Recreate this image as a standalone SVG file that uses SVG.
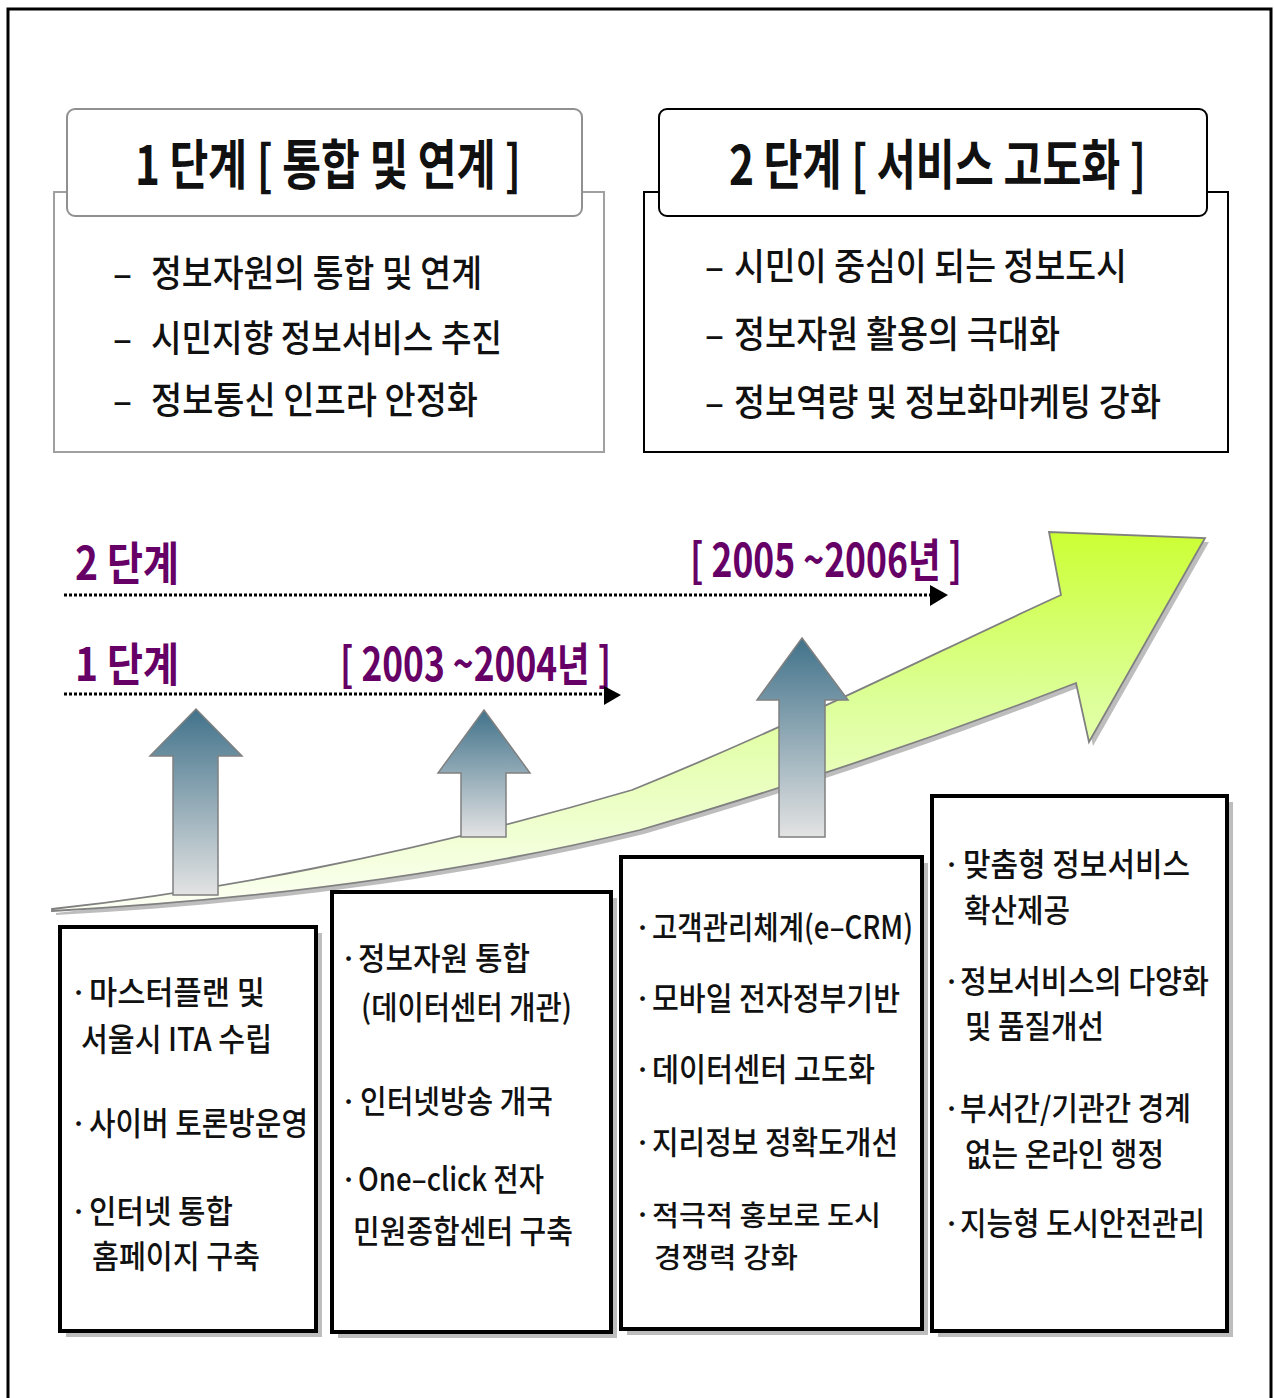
<svg xmlns="http://www.w3.org/2000/svg" width="1274" height="1398" viewBox="0 0 1274 1398">
<defs>
<style>
text { font-family: "Noto Sans CJK KR", "Noto Sans", sans-serif; fill: #111; }
.title { font-size: 54px; font-weight: bold; }
.item { font-size: 37px; font-weight: 500; }
.b { font-size: 32px; font-weight: 500; }
.bs { font-size: 28px; font-weight: 500; }
.bul { font-size: 30px; font-weight: 500; }
.tl { font-size: 46px; font-weight: bold; fill: #660066; }
.box { fill: #fff; stroke: #000; stroke-width: 4; }
.shadow { fill: #bdbdbd; }
.up { fill: url(#blueGrad); stroke: #808080; stroke-width: 1.5; }
.dots { stroke: #000; stroke-width: 3; stroke-dasharray: 3 2; fill: none; }
</style>
<linearGradient id="greenGrad" gradientUnits="userSpaceOnUse" x1="0" y1="532" x2="0" y2="905">
<stop offset="0" stop-color="#CCFF33"/>
<stop offset="0.45" stop-color="#DDFF99"/>
<stop offset="1" stop-color="#FBFFF2"/>
</linearGradient>
<linearGradient id="blueGrad" x1="0" y1="0" x2="0" y2="1">
<stop offset="0" stop-color="#41728A"/>
<stop offset="1" stop-color="#E3E3E3"/>
</linearGradient>
</defs>

<rect x="8" y="9" width="1263" height="1410" fill="#fff" stroke="#000" stroke-width="3"/>

<g id="stage1-box">
<rect x="54" y="192" width="550" height="260" fill="#fff" stroke="#a0a0a0" stroke-width="2"/>
<rect x="67" y="109" width="515" height="107" rx="8" fill="#fff" stroke="#909090" stroke-width="2"/>
<text class="title" x="135" y="185" textLength="386" lengthAdjust="spacingAndGlyphs">1 단계 [ 통합 및 연계 ]</text>
<text class="item" x="113" y="287" textLength="19" lengthAdjust="spacingAndGlyphs">–</text>
<text class="item" x="151" y="287" textLength="331" lengthAdjust="spacingAndGlyphs">정보자원의 통합 및 연계</text>
<text class="item" x="113" y="352" textLength="19" lengthAdjust="spacingAndGlyphs">–</text>
<text class="item" x="151" y="352" textLength="351" lengthAdjust="spacingAndGlyphs">시민지향 정보서비스 추진</text>
<text class="item" x="113" y="414" textLength="19" lengthAdjust="spacingAndGlyphs">–</text>
<text class="item" x="151" y="414" textLength="327" lengthAdjust="spacingAndGlyphs">정보통신 인프라 안정화</text>
</g>

<g id="stage2-box">
<rect x="644" y="192" width="584" height="260" fill="#fff" stroke="#000" stroke-width="2"/>
<rect x="659" y="109" width="548" height="107" rx="8" fill="#fff" stroke="#000" stroke-width="2"/>
<text class="title" x="729" y="185" textLength="417" lengthAdjust="spacingAndGlyphs">2 단계 [ 서비스 고도화 ]</text>
<text class="item" x="705" y="280" textLength="19" lengthAdjust="spacingAndGlyphs">–</text>
<text class="item" x="734" y="280" textLength="393" lengthAdjust="spacingAndGlyphs">시민이 중심이 되는 정보도시</text>
<text class="item" x="705" y="348" textLength="19" lengthAdjust="spacingAndGlyphs">–</text>
<text class="item" x="734" y="348" textLength="326" lengthAdjust="spacingAndGlyphs">정보자원 활용의 극대화</text>
<text class="item" x="705" y="416" textLength="19" lengthAdjust="spacingAndGlyphs">–</text>
<text class="item" x="734" y="416" textLength="427" lengthAdjust="spacingAndGlyphs">정보역량 및 정보화마케팅 강화</text>
</g>

<g id="timeline-labels">
<text class="tl" x="75" y="580" textLength="104" lengthAdjust="spacingAndGlyphs">2 단계</text>
<text class="tl" x="690" y="577" textLength="272" lengthAdjust="spacingAndGlyphs">[ 2005 ~2006년 ]</text>
<text class="tl" x="75" y="681" textLength="104" lengthAdjust="spacingAndGlyphs">1 단계</text>
<text class="tl" x="340" y="681" textLength="271" lengthAdjust="spacingAndGlyphs">[ 2003 ~2004년 ]</text>
</g>

<g id="connectors">
<line class="dots" x1="64" y1="595" x2="930" y2="595"/>
<polygon points="930,585 948,595 930,606" fill="#000"/>
<line class="dots" x1="64" y1="694" x2="604" y2="694"/>
<polygon points="604,686 621,695 604,705" fill="#000"/>
</g>

<g id="growth-arrow">
<path transform="translate(4,4)" class="shadow" d="M52,909 C200,893 400,858 632,790 C800,722 940,650 1061,595 L1049,532 L1205,538 L1089,742 L1076,683 C960,728 820,778 640,830 C450,876 250,900 52,911 Z"/>
<path fill="url(#greenGrad)" stroke="#808080" stroke-width="1.8" stroke-linejoin="miter" d="M52,909 C200,893 400,858 632,790 C800,722 940,650 1061,595 L1049,532 L1205,538 L1089,742 L1076,683 C960,728 820,778 640,830 C450,876 250,900 52,911 Z"/>
</g>

<g id="up-arrow-1">
<polygon class="up" points="196,709 242,756 218,756 218,895 173,895 173,756 150,756"/>
</g>
<g id="up-arrow-2">
<polygon class="up" points="484,710 530,773 506,773 506,837 461,837 461,773 438,773"/>
</g>
<g id="up-arrow-3">
<polygon class="up" points="802,638 848,700 825,700 825,837 779,837 779,700 757,700"/>
</g>

<g id="box-a">
<rect class="shadow" x="66" y="933" width="256" height="404"/>
<rect class="box" x="60" y="927" width="256" height="404"/>
<text class="bul" x="70" y="1004">·</text>
<text class="b" x="89" y="1004" textLength="176" lengthAdjust="spacingAndGlyphs">마스터플랜  및</text>
<text class="b" x="81" y="1051" textLength="191" lengthAdjust="spacingAndGlyphs">서울시 ITA 수립</text>
<text class="bul" x="70" y="1135">·</text>
<text class="b" x="89" y="1135" textLength="219" lengthAdjust="spacingAndGlyphs">사이버 토론방운영</text>
<text class="bul" x="70" y="1223">·</text>
<text class="b" x="89" y="1223" textLength="144" lengthAdjust="spacingAndGlyphs">인터넷 통합</text>
<text class="b" x="92" y="1268" textLength="168" lengthAdjust="spacingAndGlyphs">홈페이지 구축</text>
</g>

<g id="box-b">
<rect class="shadow" x="338" y="898" width="279" height="440"/>
<rect class="box" x="332" y="892" width="279" height="440"/>
<text class="bul" x="340" y="970">·</text>
<text class="b" x="358" y="970" textLength="172" lengthAdjust="spacingAndGlyphs">정보자원 통합</text>
<text class="b" x="361" y="1019" textLength="211" lengthAdjust="spacingAndGlyphs">(데이터센터 개관)</text>
<text class="bul" x="340" y="1113">·</text>
<text class="b" x="360" y="1113" textLength="193" lengthAdjust="spacingAndGlyphs">인터넷방송 개국</text>
<text class="bul" x="340" y="1191">·</text>
<text class="b" x="358" y="1191" textLength="186" lengthAdjust="spacingAndGlyphs">One–click 전자</text>
<text class="b" x="353" y="1243" textLength="220" lengthAdjust="spacingAndGlyphs">민원종합센터 구축</text>
</g>

<g id="box-c">
<rect class="shadow" x="627" y="863" width="301" height="472"/>
<rect class="box" x="621" y="857" width="301" height="472"/>
<text class="bul" x="634" y="939">·</text>
<text class="b" x="652" y="939" textLength="261" lengthAdjust="spacingAndGlyphs">고객관리체계(e–CRM)</text>
<text class="bul" x="634" y="1010">·</text>
<text class="b" x="652" y="1010" textLength="248" lengthAdjust="spacingAndGlyphs">모바일 전자정부기반</text>
<text class="bul" x="634" y="1081">·</text>
<text class="b" x="652" y="1081" textLength="223" lengthAdjust="spacingAndGlyphs">데이터센터 고도화</text>
<text class="bul" x="634" y="1154">·</text>
<text class="b" x="652" y="1154" textLength="246" lengthAdjust="spacingAndGlyphs">지리정보 정확도개선</text>
<text class="bul" x="634" y="1226">·</text>
<text class="bs" x="652" y="1226" textLength="229" lengthAdjust="spacingAndGlyphs">적극적 홍보로 도시</text>
<text class="bs" x="654" y="1268" textLength="144" lengthAdjust="spacingAndGlyphs">경쟁력 강화</text>
</g>

<g id="box-d">
<rect class="shadow" x="938" y="802" width="295" height="535"/>
<rect class="box" x="932" y="796" width="295" height="535"/>
<text class="bul" x="943" y="876">·</text>
<text class="b" x="963" y="876" textLength="227" lengthAdjust="spacingAndGlyphs">맞춤형  정보서비스</text>
<text class="b" x="964" y="922" textLength="106" lengthAdjust="spacingAndGlyphs">확산제공</text>
<text class="bul" x="943" y="993">·</text>
<text class="b" x="960" y="993" textLength="249" lengthAdjust="spacingAndGlyphs">정보서비스의 다양화</text>
<text class="b" x="965" y="1038" textLength="139" lengthAdjust="spacingAndGlyphs">및 품질개선</text>
<text class="bul" x="943" y="1120">·</text>
<text class="b" x="960" y="1120" textLength="231" lengthAdjust="spacingAndGlyphs">부서간/기관간 경계</text>
<text class="b" x="965" y="1166" textLength="199" lengthAdjust="spacingAndGlyphs">없는 온라인 행정</text>
<text class="bul" x="943" y="1235">·</text>
<text class="b" x="960" y="1235" textLength="245" lengthAdjust="spacingAndGlyphs">지능형 도시안전관리</text>
</g>
</svg>
